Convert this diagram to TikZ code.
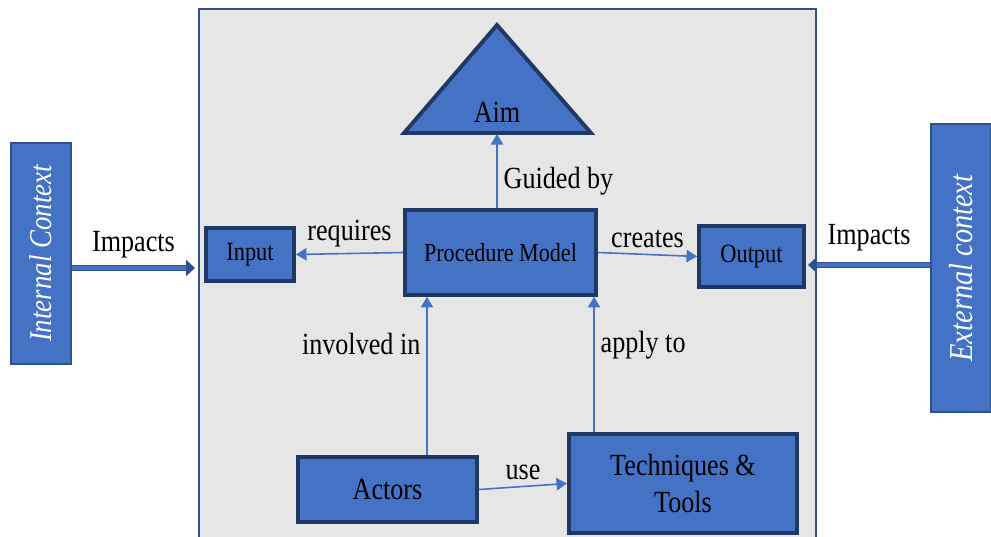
\documentclass[tikz,border=0pt]{standalone}
\usepackage{fontspec}
\setmainfont{Liberation Serif}[FakeStretch=0.85]
\usepackage{tikz}
\usetikzlibrary{positioning,arrows.meta,calc}

\definecolor{boxblue}{HTML}{4472C4}
\definecolor{boxedge}{HTML}{203864}
\definecolor{ctxedge}{HTML}{2F528F}
\definecolor{panelgray}{HTML}{E7E6E6}

\begin{document}
\begin{tikzpicture}[
    box/.style={draw=boxedge, fill=boxblue, line width=2.2pt, text=black, align=center, inner sep=0pt},
    ctxbox/.style={draw=ctxedge, fill=boxblue, line width=1pt, inner sep=0pt},
    link/.style={draw=boxblue, line width=0.9pt, -{Triangle[length=6pt,width=7pt]}},
    impact/.style={draw=ctxedge, double=boxblue, double distance=2.4pt, line width=0.7pt, -{Triangle[length=5pt,width=9pt]}},
    lbl/.style={font=\fontsize{17.5}{20}\selectfont, text=black}
]
\useasboundingbox (0,0) rectangle (19.82,10.74);

% Panel
\draw[ctxedge, fill=panelgray, line width=0.6pt] (3.98,-0.2) rectangle (16.32,10.56);

% Context boxes
\node[ctxbox, minimum width=1.2cm, minimum height=4.42cm] (intctx) at (0.82,5.67) {};
\node[rotate=90, text=white, font=\fontsize{18}{20}\selectfont\itshape] at (intctx.center) {Internal Context};
\node[ctxbox, minimum width=1.2cm, minimum height=5.76cm] (extctx) at (19.22,5.38) {};
\node[rotate=90, text=white, font=\fontsize{19}{20}\selectfont\itshape] at (extctx.center) {External context};

% Aim triangle
\draw[boxedge, fill=boxblue, line width=2.2pt, line join=miter]
    (8.08,8.08) -- (9.94,10.24) -- (11.82,8.08) -- cycle;
\coordinate (aimbase) at (9.94,8.06);
\node[lbl] (aim) at (9.94,8.5) {Aim};

% Boxes
\node[box, minimum width=1.76cm, minimum height=1.06cm, font=\fontsize{15}{18}\selectfont] (input) at (5.0,5.65) {Input};
\node[box, minimum width=3.82cm, minimum height=1.7cm, font=\fontsize{14.8}{18}\selectfont] (pm) at (10.01,5.69) {Procedure Model};
\node[box, minimum width=2.1cm, minimum height=1.22cm, font=\fontsize{15}{18}\selectfont] (output) at (15.03,5.61) {Output};
\node[box, minimum width=3.58cm, minimum height=1.3cm, font=\fontsize{17.5}{20}\selectfont] (actors) at (7.75,0.95) {Actors};
\node[box, minimum width=4.56cm, minimum height=1.98cm, font=\fontsize{17.5}{21}\selectfont] (tools) at (13.66,1.07) {Techniques \&\\Tools};

% Connectors
\draw[link] (pm.north -| aimbase) -- (aimbase) node[pos=0.36, right, lbl] {Guided by};
\draw[link] (pm.west) -- (input.east) node[midway, above, lbl] {requires};
\draw[link] (pm.east) -- (output.west) node[midway, above, lbl] {creates};
\draw[link] (actors.north -| 8.54,0) -- (pm.south -| 8.54,0) node[pos=0.7, left, lbl] {involved in};
\draw[link] (tools.north -| 11.88,0) -- (pm.south -| 11.88,0) node[pos=0.64, right, lbl] {apply to};
\draw[link] (actors.east) -- (tools.west) node[midway, above, lbl] {use};

% Impacts
\coordinate (inend) at (3.9,5.38);
\coordinate (outend) at (16.16,5.44);
\draw[impact] (intctx.east |- inend) -- (inend) node[midway, above=2pt, lbl] {Impacts};
\draw[impact] (extctx.west |- outend) -- (outend) node[midway, above=4pt, lbl] {Impacts};
\end{tikzpicture}
\end{document}
